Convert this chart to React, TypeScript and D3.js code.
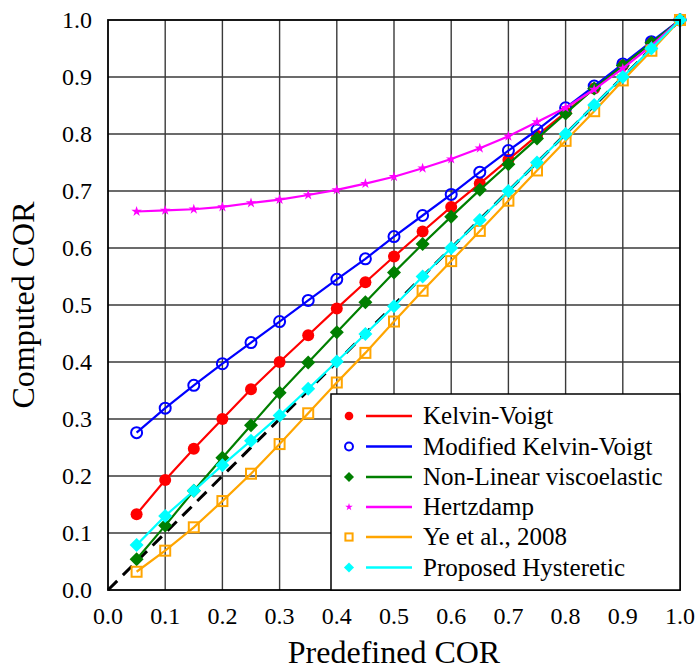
import React from "react";
import * as d3 from "d3";

// Predefined coefficient of restitution (x) for every model run
const predefined = [0.05, 0.1, 0.15, 0.2, 0.25, 0.3, 0.35, 0.4, 0.45, 0.5, 0.55, 0.6, 0.65, 0.7, 0.75, 0.8, 0.85, 0.9, 0.95, 1.0];

// Computed COR per contact model
const kelvinVoigt = [0.133, 0.193, 0.248, 0.3, 0.352, 0.4, 0.447, 0.494, 0.54, 0.585, 0.629, 0.672, 0.713, 0.755, 0.797, 0.838, 0.88, 0.92, 0.96, 1.0];
const modifiedKelvinVoigt = [0.276, 0.319, 0.359, 0.397, 0.434, 0.471, 0.508, 0.545, 0.581, 0.62, 0.657, 0.694, 0.733, 0.771, 0.807, 0.846, 0.884, 0.923, 0.962, 1.0];
const nonLinearViscoelastic = [0.054, 0.113, 0.174, 0.232, 0.289, 0.346, 0.399, 0.452, 0.505, 0.557, 0.607, 0.655, 0.702, 0.747, 0.792, 0.836, 0.88, 0.92, 0.96, 1.0];
const hertzdamp = [0.664, 0.666, 0.668, 0.672, 0.679, 0.685, 0.693, 0.702, 0.713, 0.725, 0.74, 0.756, 0.775, 0.796, 0.821, 0.846, 0.878, 0.915, 0.955, 1.0];
const ye2008 = [0.032, 0.069, 0.11, 0.156, 0.204, 0.256, 0.31, 0.364, 0.416, 0.471, 0.525, 0.577, 0.63, 0.683, 0.736, 0.788, 0.84, 0.894, 0.946, 1.0];
const proposedHysteretic = [0.079, 0.13, 0.174, 0.219, 0.262, 0.306, 0.353, 0.401, 0.449, 0.498, 0.55, 0.6, 0.649, 0.7, 0.75, 0.8, 0.851, 0.9, 0.95, 1.0];

const tickValues = [0, 0.1, 0.2, 0.3, 0.4, 0.5, 0.6, 0.7, 0.8, 0.9, 1.0];

type Marker = "circle" | "ring" | "diamond" | "star" | "square";

const series: { name: string; values: number[]; color: string; marker: Marker }[] = [
  { name: "Kelvin-Voigt", values: kelvinVoigt, color: "#ff0000", marker: "circle" },
  { name: "Modified Kelvin-Voigt", values: modifiedKelvinVoigt, color: "#0000ff", marker: "ring" },
  { name: "Non-Linear viscoelastic", values: nonLinearViscoelastic, color: "#007f00", marker: "diamond" },
  { name: "Hertzdamp", values: hertzdamp, color: "#ff00ff", marker: "star" },
  { name: "Ye et al., 2008", values: ye2008, color: "#ffa500", marker: "square" },
  { name: "Proposed Hysteretic", values: proposedHysteretic, color: "#00ffff", marker: "diamond" },
];

const W = 698;
const H = 670;
const M = { left: 108, right: 680, top: 20, bottom: 590 };
const serif = { fontFamily: "'Liberation Serif', 'Times New Roman', Times, serif" };

const x = d3.scaleLinear().domain([0, 1]).range([M.left, M.right]);
const y = d3.scaleLinear().domain([0, 1]).range([M.bottom, M.top]);

function MarkerShape({ kind, color, cx, cy, scale = 1 }: { kind: Marker; color: string; cx: number; cy: number; scale?: number }) {
  if (kind === "circle") return <circle cx={cx} cy={cy} r={6 * scale} fill={color} />;
  if (kind === "ring") return <circle cx={cx} cy={cy} r={5.5 * scale} fill="none" stroke={color} strokeWidth={2} />;
  if (kind === "square") {
    const s = 10 * scale;
    return <rect x={cx - s / 2} y={cy - s / 2} width={s} height={s} fill="none" stroke={color} strokeWidth={2} />;
  }
  if (kind === "diamond") {
    const r = 7 * scale;
    return <path d={`M${cx},${cy - r}L${cx + r},${cy}L${cx},${cy + r}L${cx - r},${cy}Z`} fill={color} />;
  }
  const star = d3.symbol().type(d3.symbolStar).size(34 * scale * scale)();
  return <path d={star || ""} transform={`translate(${cx},${cy})`} fill={color} />;
}

export default function App() {
  const line = d3
    .line<number>()
    .x((_, i) => x(predefined[i]))
    .y((v) => y(v));

  const inner = tickValues.slice(1, -1);
  const legendRows = [416, 446.5, 477, 507, 537, 567.5];

  return (
    <svg width={W} height={H} style={{ position: "absolute", left: 0, top: 0, background: "#fff", ...serif }}>
      <rect width={W} height={H} fill="#fff" />

      {/* grid */}
      {inner.map((t) => (
        <line key={`gx${t}`} x1={x(t)} x2={x(t)} y1={M.top} y2={M.bottom} stroke="#3a3a3a" strokeWidth={1.4} />
      ))}
      {inner.map((t) => (
        <line key={`gy${t}`} x1={M.left} x2={M.right} y1={y(t)} y2={y(t)} stroke="#3a3a3a" strokeWidth={1.4} />
      ))}

      {/* 1:1 reference */}
      <line x1={x(0)} y1={y(0)} x2={x(1)} y2={y(1)} stroke="#000" strokeWidth={3} strokeDasharray="13,8" />

      {/* series */}
      {series.map((s) => (
        <g key={s.name}>
          <path d={line(s.values) || ""} fill="none" stroke={s.color} strokeWidth={2.2} />
          {s.values.map((v, i) => (
            <MarkerShape key={i} kind={s.marker} color={s.color} cx={x(predefined[i])} cy={y(v)} />
          ))}
        </g>
      ))}

      {/* frame */}
      <rect x={M.left} y={M.top} width={M.right - M.left} height={M.bottom - M.top} fill="none" stroke="#000" strokeWidth={1.8} />

      {/* ticks */}
      {tickValues.map((t) => (
        <text key={`tx${t}`} x={x(t)} y={624} textAnchor="middle" fontSize={24} fill="#000" style={serif}>
          {t.toFixed(1)}
        </text>
      ))}
      {tickValues.map((t) => (
        <text key={`ty${t}`} x={92} y={y(t)} dy="0.35em" textAnchor="end" fontSize={24} fill="#000" style={serif}>
          {t.toFixed(1)}
        </text>
      ))}

      {/* axis titles */}
      <text x={(M.left + M.right) / 2} y={663} textAnchor="middle" fontSize={32} fill="#000" style={serif}>
        Predefined COR
      </text>
      <text transform={`translate(34,${(M.top + M.bottom) / 2}) rotate(-90)`} textAnchor="middle" fontSize={32} fill="#000" style={serif}>
        Computed COR
      </text>

      {/* legend */}
      <rect x={331} y={394} width={M.right - 331} height={M.bottom - 394} fill="#fff" stroke="#000" strokeWidth={1.5} />
      {series.map((s, i) => (
        <g key={`lg${s.name}`}>
          <MarkerShape kind={s.marker} color={s.color} cx={349} cy={legendRows[i]} scale={0.72} />
          <line x1={366} x2={412} y1={legendRows[i]} y2={legendRows[i]} stroke={s.color} strokeWidth={2.5} />
          <text x={423} y={legendRows[i]} dy="0.33em" fontSize={25} fill="#000" style={serif}>
            {s.name}
          </text>
        </g>
      ))}
    </svg>
  );
}
